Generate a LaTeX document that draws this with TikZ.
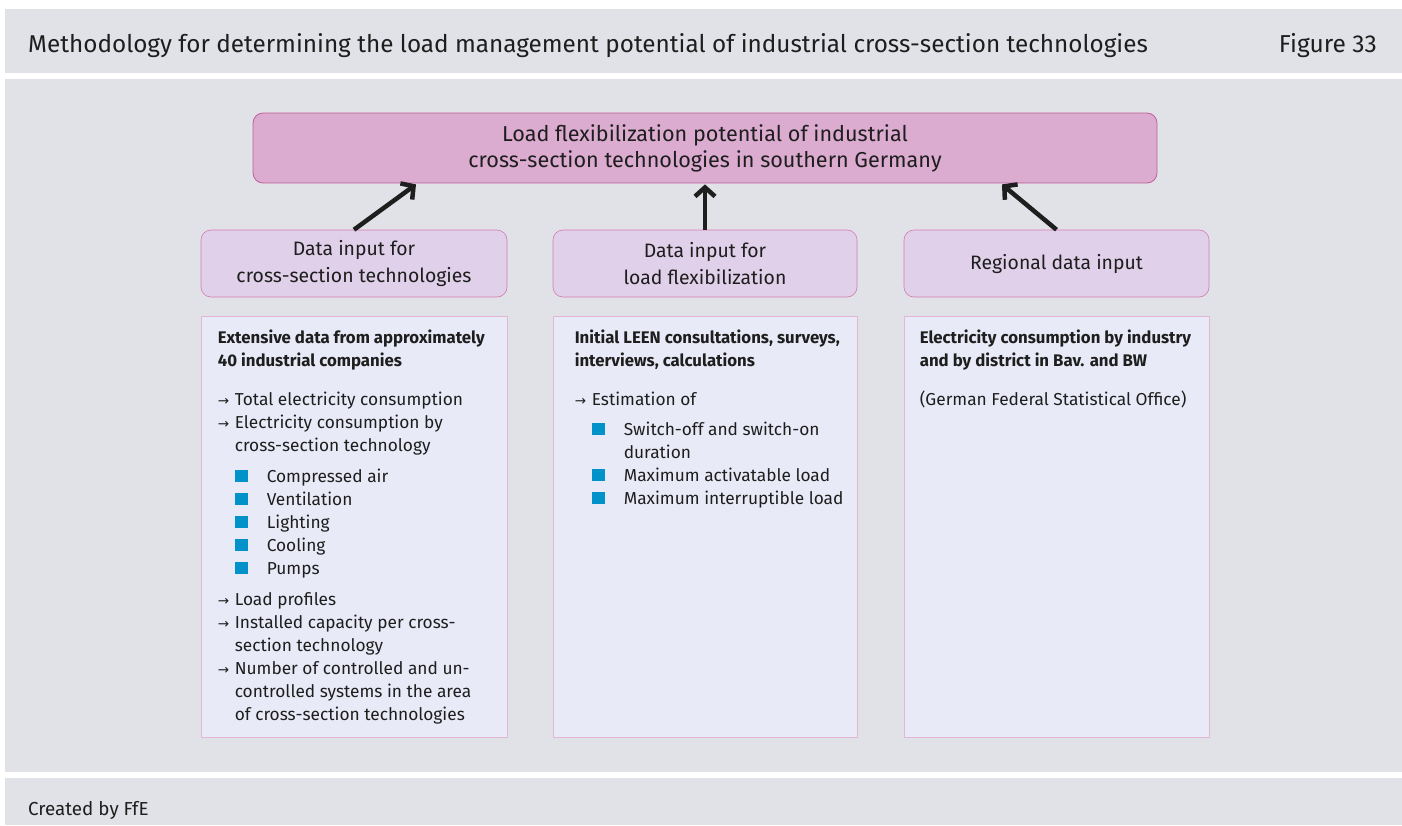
\documentclass[tikz,border=0pt]{standalone}
\usepackage{fontspec}
\setmainfont{Fira Sans}
\newfontfamily\arrowfont{DejaVu Sans}
\usetikzlibrary{arrows.meta}
\definecolor{panelgray}{HTML}{E1E2E7}
\definecolor{topfill}{HTML}{DBABD0}
\definecolor{topline}{HTML}{C0609A}
\definecolor{hdrfill}{HTML}{E0D0E9}
\definecolor{hdrline}{HTML}{D47AB0}
\definecolor{bodyfill}{HTML}{E9EAF7}
\definecolor{bodyline}{HTML}{E2B6D4}
\definecolor{sqblue}{HTML}{0092C8}
\definecolor{txtgray}{HTML}{1E1E1E}

% arrow and square bullets for the lists
\newcommand{\arr}{\makebox[17pt][l]{\arrowfont\fontsize{13.5}{13.5}\selectfont →}}
\newcommand{\sqitem}{\hspace*{17pt}\makebox[32pt][l]{\textcolor{sqblue}{\rule{13pt}{12.5pt}}}}
\newcommand{\indA}{\hspace*{17pt}}
\newcommand{\indB}{\hspace*{49pt}}
\newcommand{\hd}[1]{{\fontsize{16.8}{23}\selectfont\textbf{#1}}}

\begin{document}
\begin{tikzpicture}[x=1pt,y=-1pt,
  every node/.style={text=txtgray},
  topbox/.style={draw=topline,fill=topfill,line width=0.8pt,rounded corners=10pt,
    align=center,font=\fontsize{21.6}{26}\selectfont},
  hdrbox/.style={draw=hdrline,fill=hdrfill,line width=0.6pt,rounded corners=10pt,
    align=center,font=\fontsize{19.4}{27}\selectfont,minimum height=67pt},
  bodybox/.style={draw=bodyline,fill=bodyfill,line width=0.8pt,minimum height=421pt},
  listtext/.style={anchor=north west,inner sep=0pt,align=left,
    font=\fontsize{17.3}{23}\selectfont},
  flow/.style={draw=txtgray,line width=4.5pt,-{Straight Barb[length=9pt,width=20pt]}}]
\useasboundingbox (0,0) rectangle (1402,825);
% Bands
\fill[white] (0,0) rectangle (1402,825);
\fill[panelgray] (5,9) rectangle (1402,73);
\fill[panelgray] (5,79) rectangle (1402,772);
\fill[panelgray] (5,778) rectangle (1402,825);
% Title and footer
\node[anchor=base west,inner sep=0pt,font=\fontsize{24.3}{28}\selectfont] (title) at (28,52)
  {Methodology for determining the load management potential of industrial cross-section technologies};
\node[anchor=base east,inner sep=0pt,font=\fontsize{24.5}{28}\selectfont] (fignum) at (1377,52) {Figure 33};
\node[anchor=base west,inner sep=0pt,font=\fontsize{18.8}{22}\selectfont] (credit) at (28,815) {Created by FfE};
% Target box
\node[topbox,minimum width=904pt,minimum height=70pt] (top) at (705,148)
  {Load flexibilization potential of industrial\\cross-section technologies in southern Germany};
% Input headers
\node[hdrbox,minimum width=306pt] (hdrA) at (354,263.5) {Data input for\\cross-section technologies};
\node[hdrbox,minimum width=304pt] (hdrB) at (705,263.5) {Data input for\\load flexibilization};
\node[hdrbox,minimum width=305pt] (hdrC) at (1056.5,263.5) {Regional data input};
% Arrows
\draw[flow] (hdrA.north) -- ([xshift=-289pt,yshift=-1pt]top.south);
\draw[flow] (hdrB.north) -- ([yshift=-1pt]top.south);
\draw[flow] (hdrC.north) -- ([xshift=297pt,yshift=-1pt]top.south);
% Content boxes
\node[bodybox,minimum width=306pt] (bodyA) at (354,526.5) {};
\node[bodybox,minimum width=304pt] (bodyB) at (705,526.5) {};
\node[bodybox,minimum width=305pt] (bodyC) at (1056.5,526.5) {};
% Lists
\node[listtext] (listA) at ([xshift=17pt,yshift=-14pt]bodyA.north west)
  {\hd{Extensive data from approximately}\\
   \hd{40 industrial companies}\\[16pt]
   \arr Total electricity consumption\\
   \arr Electricity consumption by\\
   \indA cross-section technology\\[8pt]
   \sqitem Compressed air\\
   \sqitem Ventilation\\
   \sqitem Lighting\\
   \sqitem Cooling\\
   \sqitem Pumps\\[8pt]
   \arr Load profiles\\
   \arr Installed capacity per cross-\\
   \indA section technology\\
   \arr Number of controlled and un-\\
   \indA controlled systems in the area\\
   \indA of cross-section technologies};
\node[listtext] (listB) at ([xshift=22pt,yshift=-14pt]bodyB.north west)
  {\hd{Initial LEEN consultations, surveys,}\\
   \hd{interviews, calculations}\\[16pt]
   \arr Estimation of\\[7pt]
   \sqitem Switch-off and switch-on\\
   \indB duration\\
   \sqitem Maximum activatable load\\
   \sqitem Maximum interruptible load};
\node[listtext] (listC) at ([xshift=16pt,yshift=-14pt]bodyC.north west)
  {\hd{Electricity consumption by industry}\\
   \hd{and by district in Bav. and BW}\\[16pt]
   (German Federal Statistical Office)};
\end{tikzpicture}
\end{document}
